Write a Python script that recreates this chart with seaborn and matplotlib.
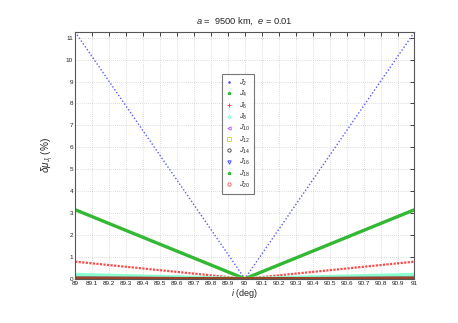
import numpy as np
import pandas as pd
import seaborn as sns
import matplotlib.pyplot as plt
from matplotlib.lines import Line2D

# ===== 数据 (端点读图) =====
incl = [89.0, 90.0, 91.0]
J2 = [11.26, 0.0, 11.26]
J4 = [3.15, 0.0, 3.15]
J6 = [0.78, 0.0, 0.78]
J8 = [0.19, 0.0, 0.19]
J10 = [0.08, 0.0, 0.08]
J12 = [0.04, 0.0, 0.04]
J14 = [0.03, 0.0, 0.03]
J16 = [0.02, 0.0, 0.02]
J18 = [0.015, 0.0, 0.015]
J20 = [0.01, 0.0, 0.01]
names = ["J2", "J4", "J6", "J8", "J10", "J12", "J14", "J16", "J18", "J20"]
legend_labels = ["$J_{2}$", "$J_{4}$", "$J_{6}$", "$J_{8}$", "$J_{10}$",
                 "$J_{12}$", "$J_{14}$", "$J_{16}$", "$J_{18}$", "$J_{20}$"]
xticks = [round(89 + 0.1 * k, 1) for k in range(21)]
yticks = list(range(12))

df = pd.DataFrame({"i": incl, "J2": J2, "J4": J4, "J6": J6, "J8": J8, "J10": J10,
                   "J12": J12, "J14": J14, "J16": J16, "J18": J18, "J20": J20})

# ===== 样式 =====
sns.set_style("white")
plt.rcParams['font.family'] = ['Liberation Sans', 'DejaVu Sans']
plt.rcParams['mathtext.fontset'] = 'custom'
plt.rcParams['mathtext.it'] = 'Liberation Sans:italic'
plt.rcParams['mathtext.rm'] = 'Liberation Sans'

colors = ["#5a5aff", "#33b833", "#ff4a4a", "#8affd0", "#b566ff",
          "#ccdd55", "#555555", "#4a4aff", "#33b833", "#ff6a6a"]
markers = [".", "*", "+", "^", "<", "s", "o", "v", "*", "o"]
line_styles = [
    dict(ls=(0, (1, 1.5)), lw=1.0),
    dict(ls="-", lw=2.4),
    dict(ls=(0, (1, 0.6)), lw=1.6),
    dict(ls="-", lw=2.6),
    dict(ls="-", lw=1.6),
    dict(ls="-", lw=2.0),
    dict(ls="-", lw=2.0),
    dict(ls="-", lw=2.0),
    dict(ls="-", lw=2.4),
    dict(ls="-", lw=2.4),
]
draw_colors = colors[:]
draw_colors[9] = "#9a4428"  # 底部重叠带的颜色

fig = plt.figure(figsize=(4.58, 3.23), dpi=100)
ax = fig.add_axes([0.164, 0.137, 0.741, 0.764])

for k, name in enumerate(names):
    sns.lineplot(data=df, x="i", y=name, ax=ax, color=draw_colors[k],
                 legend=False, **line_styles[k])

ax.set_xlim(89, 91)
ax.set_ylim(0, 11.26)
ax.set_xticks(xticks)
ax.set_xticklabels([("%g" % v) for v in xticks])
ax.set_yticks(yticks)
ax.tick_params(direction="in", length=3, width=0.6, labelsize=4.6,
               top=True, right=True, pad=1.5, colors="#222222")
ax.grid(True, ls=(0, (1, 2)), lw=0.5, color="#bbbbbb")
for sp in ax.spines.values():
    sp.set_color("#555555")
    sp.set_linewidth(0.8)

ax.set_title("$a$ =  9500 km,  $e$ = 0.01", fontsize=6.7, pad=6)
ax.set_xlabel("$i$ (deg)", fontsize=6.5, labelpad=1)
ax.set_ylabel(r"$\delta\mu_{J_i}$ (%)", fontsize=7.2, labelpad=8)

handles = [Line2D([], [], ls="none", marker=markers[k], color=colors[k],
                  markerfacecolor=("none" if markers[k] in ("^", "<", "s", "o", "v") else colors[k]),
                  markersize=2.4, markeredgewidth=0.7) for k in range(10)]
leg = ax.legend(handles, legend_labels, loc="upper left",
                bbox_to_anchor=(0.433, 0.83), fontsize=5.3, frameon=True,
                fancybox=False, edgecolor="#555555", labelspacing=0.16,
                handlelength=1.0, handletextpad=0.8, borderpad=0.5,
                borderaxespad=0)
leg.get_frame().set_linewidth(0.8)

fig.savefig("out.png", dpi=100)
